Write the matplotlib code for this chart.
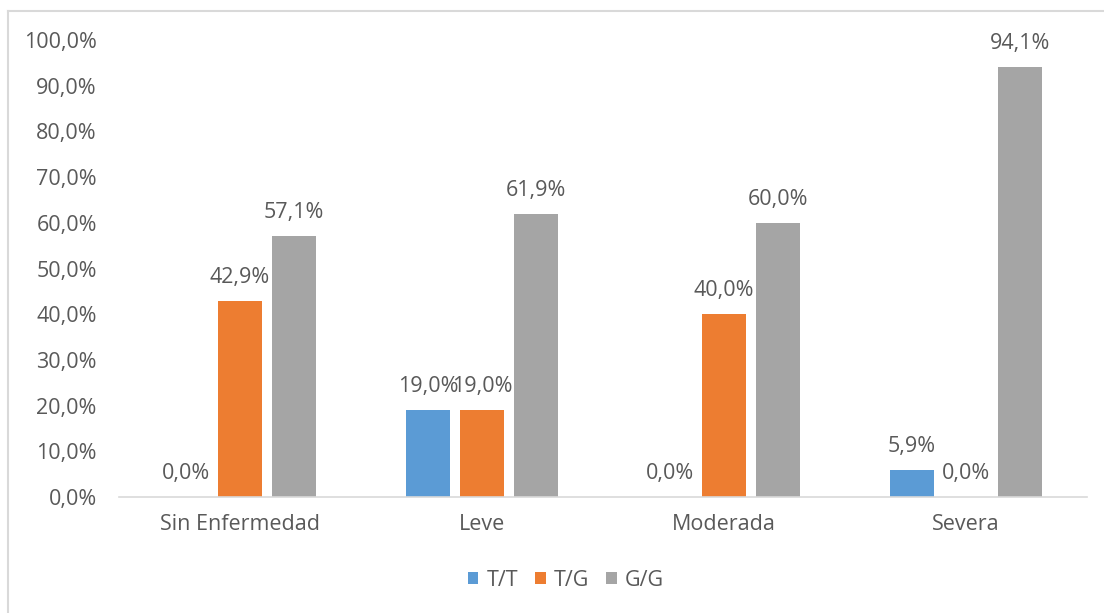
import matplotlib
matplotlib.use("Agg")
import matplotlib.pyplot as plt
import numpy as np
from matplotlib.lines import Line2D

categories = ["Sin Enfermedad", "Leve", "Moderada", "Severa"]
series_names = ["T/T", "T/G", "G/G"]
tt = [0.0, 19.0, 0.0, 5.9]
tg = [42.9, 19.0, 40.0, 0.0]
gg = [57.1, 61.9, 60.0, 94.1]
yticks = [0, 10, 20, 30, 40, 50, 60, 70, 80, 90, 100]
colors = ["#5B9BD5", "#ED7D31", "#A5A5A5"]

plt.rcParams['font.family'] = ['Open Sans', 'DejaVu Sans']
txt = "#595959"
fs = 15.5

W, H = 1104, 613
fig = plt.figure(figsize=(W/100, H/100), dpi=100)
ax = fig.add_axes([119/W, 1-497/H, (1087-119)/W, (497-40)/H])

x = np.arange(len(categories))
bw = 0.178
step = 0.223
for i, (vals, c) in enumerate(zip([tt, tg, gg], colors)):
    pos = x + (i-1)*step
    ax.bar(pos, vals, width=bw, color=c, label=series_names[i], zorder=2)
    for p, v in zip(pos, vals):
        ax.annotate(f"{v:.1f}%".replace(".", ","), xy=(p, v), xytext=(0, 13),
                    textcoords="offset points", ha="center", va="baseline",
                    fontsize=fs, color=txt)

ax.set_xlim(-0.5, len(categories)-0.5)
ax.set_ylim(0, 100)
ax.set_yticks(yticks)
ax.set_yticklabels([f"{v:.1f}%".replace(".", ",") for v in yticks], fontsize=fs, color=txt)
ax.set_xticks(x)
ax.set_xticklabels(categories, fontsize=fs, color=txt)
ax.tick_params(axis='both', length=0)
ax.tick_params(axis='y', pad=16)
ax.tick_params(axis='x', pad=12)
for s in ["top", "right", "left"]:
    ax.spines[s].set_visible(False)
ax.spines["bottom"].set_color("#D9D9D9")
ax.spines["bottom"].set_linewidth(1.2)

leg = fig.legend(loc="center", bbox_to_anchor=(566/W, 1-580/H), ncol=3, frameon=False,
                 fontsize=fs, handlelength=0.5, handleheight=0.5, handletextpad=0.4,
                 columnspacing=0.75)
for t in leg.get_texts():
    t.set_color(txt)

# chart frame
fig.add_artist(Line2D([7.5/W, 7.5/W], [0, 1-11/H], transform=fig.transFigure, color="#D9D9D9", lw=1.5))
fig.add_artist(Line2D([7.5/W, 1], [1-11/H, 1-11/H], transform=fig.transFigure, color="#D9D9D9", lw=1.5))

fig.savefig("out.png", dpi=100)
